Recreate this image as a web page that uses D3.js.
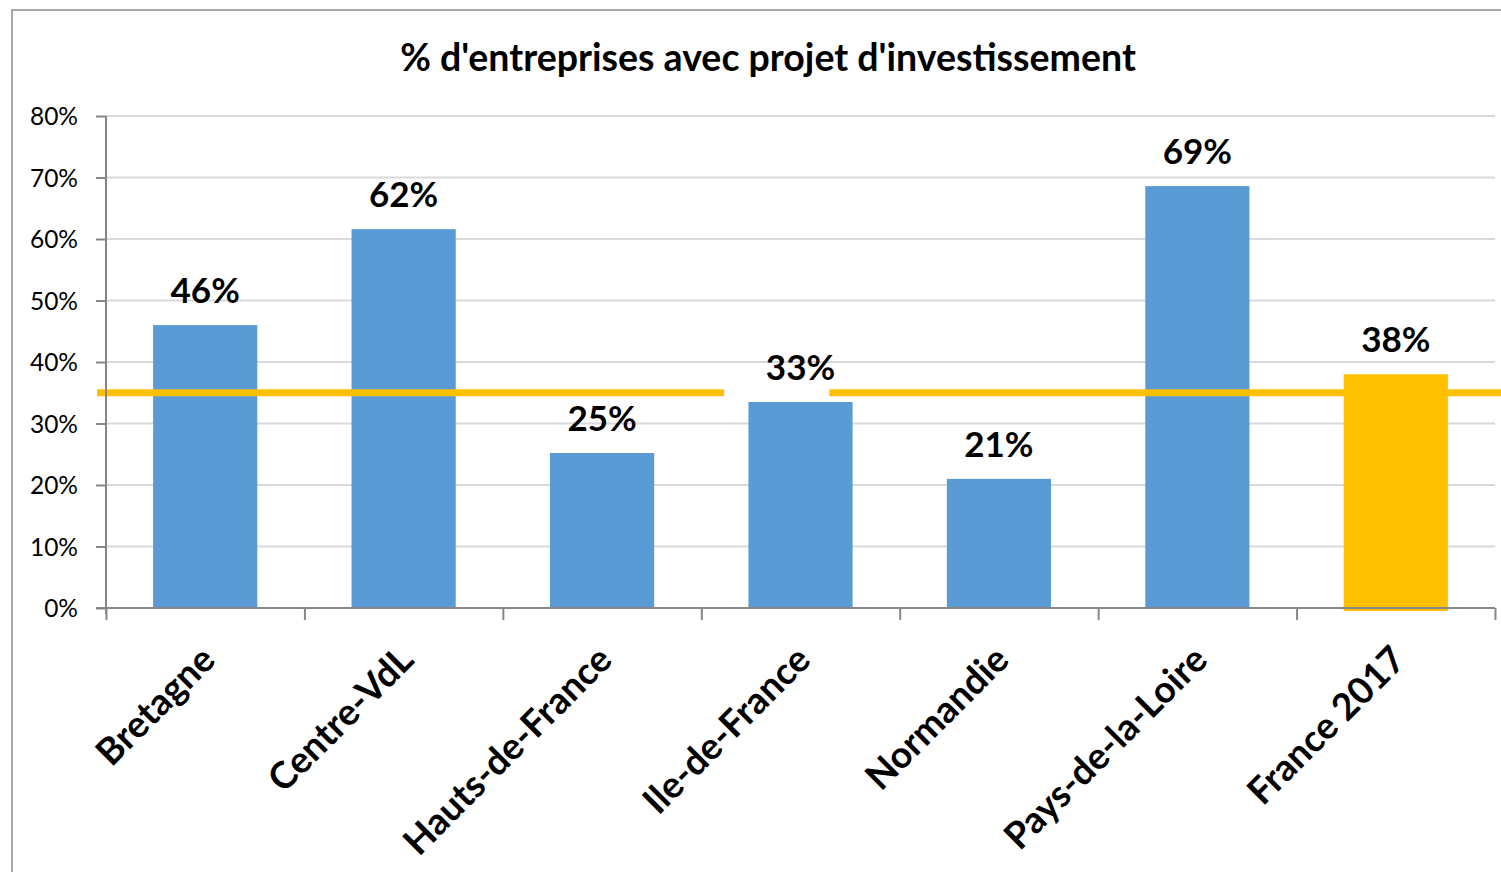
<!DOCTYPE html>
<meta charset="utf-8">
<style>
body { margin: 0; background: #fff; }
text { font-family: Lato, "Open Sans", sans-serif; }
.axis path, .axis line { stroke: #868686; stroke-width: 2px; }
.axis text { font-size: 24.5px; fill: #000; }
.grid line { stroke: #d9d9d9; stroke-width: 2px; }
</style>
<svg width="1501" height="872"></svg>
<script src="https://d3js.org/d3.v7.min.js"></script>
<script>

var categories = ["Bretagne", "Centre-VdL", "Hauts-de-France", "Ile-de-France", "Normandie", "Pays-de-la-Loire", "France 2017"];
var values = [46, 61.6, 25.2, 33.5, 21, 68.6, 38];
var valueLabels = ["46%", "62%", "25%", "33%", "21%", "69%", "38%"];
var yTicks = [0, 10, 20, 30, 40, 50, 60, 70, 80];
var refValue = 35;              // France average line
var refGap = [3.115, 3.645];    // break in the line, in category units

var svg = d3.select("svg"),
    margin = {top: 116, right: 6, bottom: 264, left: 106},
    width = +svg.attr("width") - margin.left - margin.right,
    height = +svg.attr("height") - margin.top - margin.bottom;

// chart border
svg.append("rect")
    .attr("x", 12).attr("y", 10)
    .attr("width", 1600).attr("height", 1000)
    .attr("fill", "none")
    .attr("stroke", "#8c8c8c")
    .attr("stroke-width", 1.5);

svg.append("text")
    .attr("x", 768).attr("y", 71)
    .attr("text-anchor", "middle")
    .style("font-size", "37.5px")
    .style("font-weight", "bold")
    .text("% d'entreprises avec projet d'investissement");

var g = svg.append("g").attr("transform", "translate(" + margin.left + "," + margin.top + ")");

var x = d3.scaleBand().domain(categories).range([0, width]).padding(0);
var xb = d3.scaleLinear().domain([0, categories.length]).range([0, width]);
var y = d3.scaleLinear().domain([0, 80]).range([height, 0]);

g.append("g")
    .attr("class", "grid")
  .selectAll("line")
  .data(yTicks.slice(1))
  .enter().append("line")
    .attr("x1", 0).attr("x2", width)
    .attr("y1", function(d) { return y(d); })
    .attr("y2", function(d) { return y(d); });

var barW = x.bandwidth() * 0.525;

g.selectAll(".bar")
  .data(values)
  .enter().append("rect")
    .attr("class", "bar")
    .attr("x", function(d, i) { return x(categories[i]) + (x.bandwidth() - barW) / 2; })
    .attr("width", barW)
    .attr("y", function(d) { return y(d); })
    .attr("height", function(d, i) { return height - y(d) + (i == values.length - 1 ? 3 : 0); })
    .attr("fill", function(d, i) { return i == values.length - 1 ? "#ffc000" : "#5b9bd5"; });

// reference line (two segments)
var ry = y(refValue);
g.append("line")
    .attr("x1", -9).attr("x2", xb(refGap[0]))
    .attr("y1", ry).attr("y2", ry)
    .attr("stroke", "#ffc000").attr("stroke-width", 7);
g.append("line")
    .attr("x1", xb(refGap[1])).attr("x2", width + margin.right)
    .attr("y1", ry).attr("y2", ry)
    .attr("stroke", "#ffc000").attr("stroke-width", 7);

g.append("g")
    .attr("class", "axis axis--y")
    .call(d3.axisLeft(y).tickValues(yTicks).tickSize(10).tickPadding(18)
      .tickFormat(function(d) { return d + "%"; }))
    .call(function(a) { a.select(".domain").attr("d", "M0," + (height + 6) + "V0"); })
    .selectAll("text").attr("dy", "0.35em");

g.append("g")
    .attr("class", "axis axis--x")
    .attr("transform", "translate(0," + height + ")")
    .call(d3.axisBottom(xb).tickValues(d3.range(categories.length + 1)).tickSize(12).tickSizeOuter(0).tickFormat(""))
    .call(function(a) { a.select(".domain").attr("d", "M-10,0H" + width); });

g.selectAll(".value")
  .data(values)
  .enter().append("text")
    .attr("class", "value")
    .attr("x", function(d, i) { return x(categories[i]) + x.bandwidth() / 2; })
    .attr("y", function(d) { return y(d) - 22; })
    .attr("text-anchor", "middle")
    .style("font-size", "35px")
    .style("font-weight", "bold")
    .text(function(d, i) { return valueLabels[i]; });

g.selectAll(".cat")
  .data(categories)
  .enter().append("text")
    .attr("class", "cat")
    .attr("transform", function(d) {
      return "translate(" + (x(d) + x.bandwidth() / 2 + 12) + "," + (height + 54) + ") rotate(-45)";
    })
    .attr("text-anchor", "end")
    .style("font-size", "37px")
    .style("font-weight", "bold")
    .text(function(d) { return d; });

</script>
